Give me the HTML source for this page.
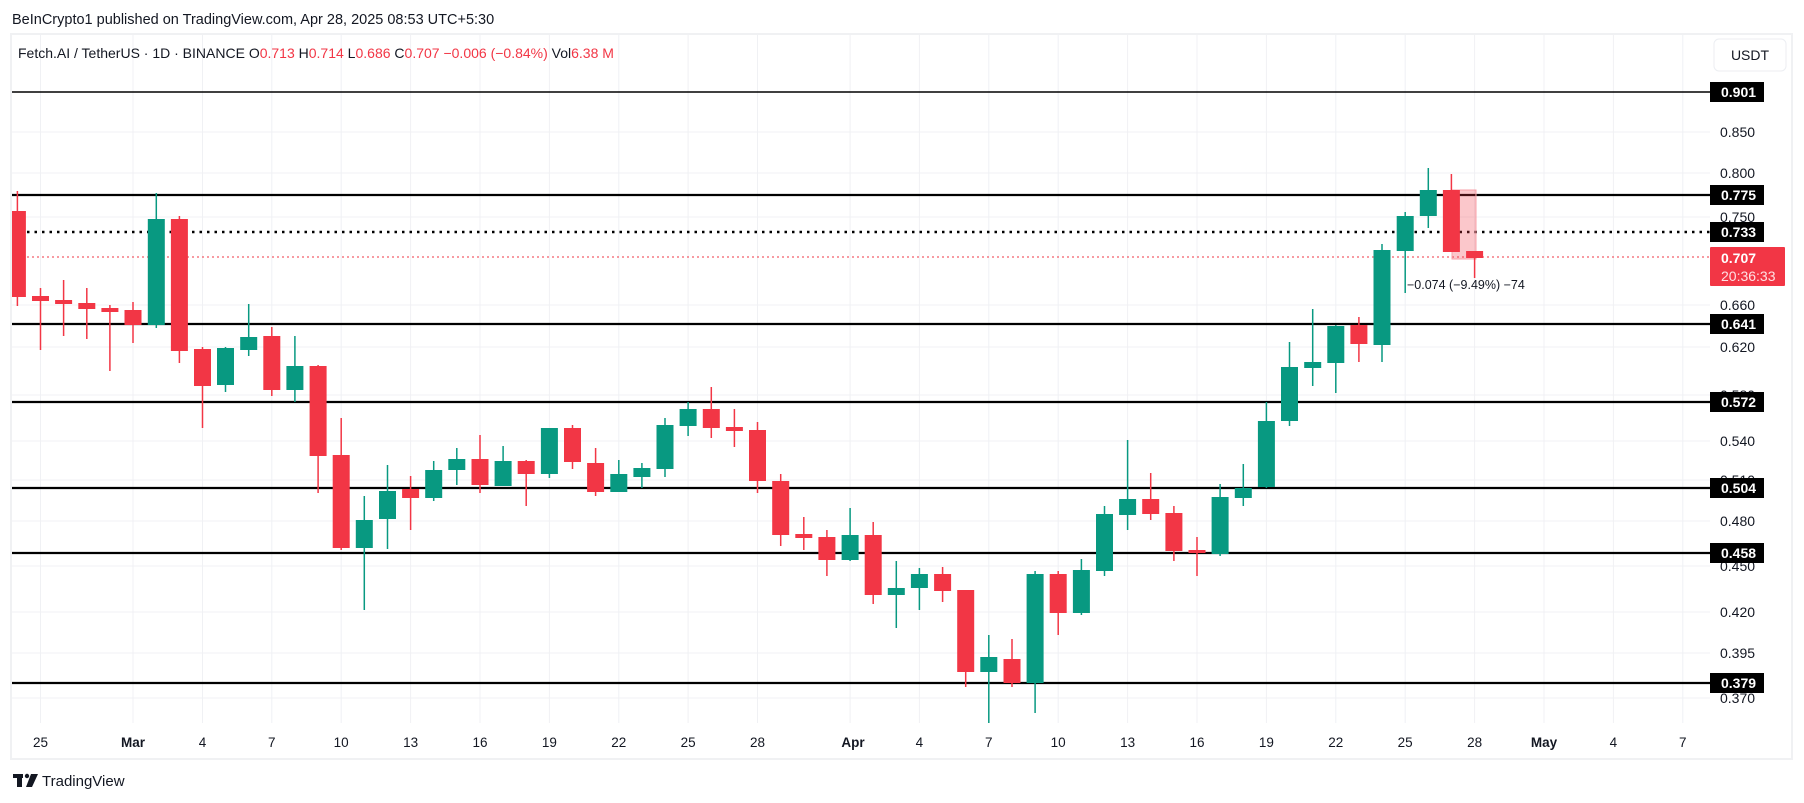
<!DOCTYPE html>
<html><head><meta charset="utf-8"><style>
html,body{margin:0;padding:0;background:#fff;}
svg{display:block;font-family:"Liberation Sans",sans-serif;}
</style></head><body>
<svg width="1804" height="803" viewBox="0 0 1804 803" xmlns="http://www.w3.org/2000/svg">
<rect width="1804" height="803" fill="#fff"/>
<text x="12" y="24" font-size="14.5" fill="#131722">BeInCrypto1 published on TradingView.com, Apr 28, 2025 08:53 UTC+5:30</text>
<rect x="11" y="34" width="1781" height="725" fill="none" stroke="#f0f1f3" stroke-width="2"/>
<defs><clipPath id="pc"><rect x="12" y="35" width="1698" height="688"/></clipPath></defs>
<g stroke="#f0f1f4" stroke-width="1">
<line x1="12" y1="132" x2="1710" y2="132"/><line x1="12" y1="173" x2="1710" y2="173"/><line x1="12" y1="217" x2="1710" y2="217"/><line x1="12" y1="305" x2="1710" y2="305"/><line x1="12" y1="347" x2="1710" y2="347"/><line x1="12" y1="395" x2="1710" y2="395"/><line x1="12" y1="441" x2="1710" y2="441"/><line x1="12" y1="480" x2="1710" y2="480"/><line x1="12" y1="521" x2="1710" y2="521"/><line x1="12" y1="566" x2="1710" y2="566"/><line x1="12" y1="612" x2="1710" y2="612"/><line x1="12" y1="653" x2="1710" y2="653"/><line x1="12" y1="698" x2="1710" y2="698"/>
<line x1="40.5" y1="35" x2="40.5" y2="723"/><line x1="133" y1="35" x2="133" y2="723"/><line x1="202.5" y1="35" x2="202.5" y2="723"/><line x1="271.8" y1="35" x2="271.8" y2="723"/><line x1="341.2" y1="35" x2="341.2" y2="723"/><line x1="410.6" y1="35" x2="410.6" y2="723"/><line x1="480" y1="35" x2="480" y2="723"/><line x1="549.4" y1="35" x2="549.4" y2="723"/><line x1="618.8" y1="35" x2="618.8" y2="723"/><line x1="688.1" y1="35" x2="688.1" y2="723"/><line x1="757.5" y1="35" x2="757.5" y2="723"/><line x1="850.1" y1="35" x2="850.1" y2="723"/><line x1="919.4" y1="35" x2="919.4" y2="723"/><line x1="988.8" y1="35" x2="988.8" y2="723"/><line x1="1058.2" y1="35" x2="1058.2" y2="723"/><line x1="1127.6" y1="35" x2="1127.6" y2="723"/><line x1="1197" y1="35" x2="1197" y2="723"/><line x1="1266.4" y1="35" x2="1266.4" y2="723"/><line x1="1335.8" y1="35" x2="1335.8" y2="723"/><line x1="1405.2" y1="35" x2="1405.2" y2="723"/><line x1="1474.6" y1="35" x2="1474.6" y2="723"/><line x1="1544" y1="35" x2="1544" y2="723"/><line x1="1613.4" y1="35" x2="1613.4" y2="723"/><line x1="1682.8" y1="35" x2="1682.8" y2="723"/>
</g>
<text x="18" y="58" font-size="14" fill="#131722">Fetch.AI / TetherUS · 1D · BINANCE  <tspan>O</tspan><tspan fill="#f23645">0.713</tspan>  H<tspan fill="#f23645">0.714</tspan>  L<tspan fill="#f23645">0.686</tspan>  C<tspan fill="#f23645">0.707</tspan>  <tspan fill="#f23645">−0.006 (−0.84%)</tspan>  Vol<tspan fill="#f23645">6.38 M</tspan></text>
<g clip-path="url(#pc)">
<g stroke="#000" stroke-width="2.2">
<line x1="12" y1="92" x2="1710" y2="92" stroke-width="1.6"/>
<line x1="12" y1="195" x2="1710" y2="195"/>
<line x1="12" y1="324" x2="1710" y2="324"/>
<line x1="12" y1="402" x2="1710" y2="402"/>
<line x1="12" y1="488" x2="1710" y2="488"/>
<line x1="12" y1="553" x2="1710" y2="553"/>
<line x1="12" y1="683" x2="1710" y2="683"/>
<line x1="12" y1="232" x2="1710" y2="232" stroke-dasharray="2.5,5" stroke-width="2.5"/>
</g>
<line x1="12" y1="257" x2="1710" y2="257" stroke="#f23645" stroke-width="1" stroke-dasharray="2,3"/>
<g id="candles">
<!-- d,-1 -->
<g fill="#f23645" stroke="#f23645" stroke-width="1.5">
<line x1="17.4" y1="191" x2="17.4" y2="306"/><rect x="8.9" y="211" width="17" height="86" stroke="none"/>
<line x1="40.5" y1="288" x2="40.5" y2="350"/><rect x="32" y="296" width="17" height="5" stroke="none"/>
<line x1="63.6" y1="280" x2="63.6" y2="336"/><rect x="55.1" y="300" width="17" height="4" stroke="none"/>
<line x1="86.8" y1="288" x2="86.8" y2="339"/><rect x="78.3" y="303" width="17" height="6" stroke="none"/>
<line x1="109.9" y1="305" x2="109.9" y2="371"/><rect x="101.4" y="308" width="17" height="4" stroke="none"/>
<line x1="133" y1="302" x2="133" y2="343"/><rect x="124.5" y="310" width="17" height="15" stroke="none"/>
<line x1="179.4" y1="216" x2="179.4" y2="363"/><rect x="170.9" y="219" width="17" height="132" stroke="none"/>
<line x1="202.5" y1="347" x2="202.5" y2="428"/><rect x="194" y="349" width="17" height="37" stroke="none"/>
<line x1="271.8" y1="327" x2="271.8" y2="396"/><rect x="263.3" y="336" width="17" height="54" stroke="none"/>
<line x1="318.1" y1="365" x2="318.1" y2="493"/><rect x="309.6" y="366" width="17" height="90" stroke="none"/>
<line x1="341.2" y1="418" x2="341.2" y2="550"/><rect x="332.7" y="455" width="17" height="93" stroke="none"/>
<line x1="410.6" y1="476" x2="410.6" y2="530"/><rect x="402.1" y="489" width="17" height="9" stroke="none"/>
<line x1="480" y1="435" x2="480" y2="493"/><rect x="471.5" y="459" width="17" height="26" stroke="none"/>
<line x1="526.2" y1="460" x2="526.2" y2="506"/><rect x="517.7" y="461" width="17" height="13" stroke="none"/>
<line x1="572.5" y1="425" x2="572.5" y2="469"/><rect x="564" y="428" width="17" height="34" stroke="none"/>
<line x1="595.6" y1="448" x2="595.6" y2="496"/><rect x="587.1" y="463" width="17" height="29" stroke="none"/>
<line x1="711.3" y1="387" x2="711.3" y2="438"/><rect x="702.8" y="409" width="17" height="19" stroke="none"/>
<line x1="734.4" y1="409" x2="734.4" y2="447"/><rect x="725.9" y="427" width="17" height="4" stroke="none"/>
<line x1="757.5" y1="422" x2="757.5" y2="493"/><rect x="749" y="430" width="17" height="51" stroke="none"/>
<line x1="780.7" y1="474" x2="780.7" y2="546"/><rect x="772.2" y="481" width="17" height="54" stroke="none"/>
<line x1="803.8" y1="517" x2="803.8" y2="550"/><rect x="795.3" y="534" width="17" height="4" stroke="none"/>
<line x1="826.9" y1="530" x2="826.9" y2="576"/><rect x="818.4" y="537" width="17" height="23" stroke="none"/>
<line x1="873.2" y1="522" x2="873.2" y2="604"/><rect x="864.7" y="535" width="17" height="60" stroke="none"/>
<line x1="942.6" y1="567" x2="942.6" y2="602"/><rect x="934.1" y="574" width="17" height="17" stroke="none"/>
<line x1="965.7" y1="590" x2="965.7" y2="687"/><rect x="957.2" y="590" width="17" height="82" stroke="none"/>
<line x1="1012" y1="639" x2="1012" y2="687"/><rect x="1003.5" y="659" width="17" height="24" stroke="none"/>
<line x1="1058.2" y1="571" x2="1058.2" y2="635"/><rect x="1049.7" y="574" width="17" height="39" stroke="none"/>
<line x1="1150.7" y1="473" x2="1150.7" y2="520"/><rect x="1142.2" y="499" width="17" height="15" stroke="none"/>
<line x1="1173.9" y1="506" x2="1173.9" y2="561"/><rect x="1165.4" y="513" width="17" height="38" stroke="none"/>
<line x1="1197" y1="537" x2="1197" y2="576"/><rect x="1188.5" y="550" width="17" height="3" stroke="none"/>
<line x1="1358.9" y1="317" x2="1358.9" y2="362"/><rect x="1350.4" y="325" width="17" height="19" stroke="none"/>
</g>
<rect x="1452" y="190" width="24" height="69" fill="#f23645" fill-opacity="0.28" stroke="#f7a0a8" stroke-width="1"/>
<g fill="#f23645" stroke="#f23645" stroke-width="1.5">
<line x1="1451.4" y1="174" x2="1451.4" y2="252"/><rect x="1442.9" y="190" width="17" height="62" stroke="none"/>
<line x1="1474.6" y1="251" x2="1474.6" y2="278"/><rect x="1466.1" y="251" width="17" height="7" stroke="none"/>
</g>
<g fill="#089981" stroke="#089981" stroke-width="1.5">
<line x1="156.3" y1="193" x2="156.3" y2="328"/><rect x="147.8" y="219" width="17" height="106" stroke="none"/>
<line x1="225.5" y1="347" x2="225.5" y2="392"/><rect x="217" y="348" width="17" height="37" stroke="none"/>
<line x1="248.7" y1="304" x2="248.7" y2="356"/><rect x="240.2" y="337" width="17" height="13" stroke="none"/>
<line x1="294.9" y1="336" x2="294.9" y2="402"/><rect x="286.4" y="366" width="17" height="24" stroke="none"/>
<line x1="364.3" y1="496" x2="364.3" y2="610"/><rect x="355.8" y="520" width="17" height="28" stroke="none"/>
<line x1="387.5" y1="465" x2="387.5" y2="549"/><rect x="379" y="491" width="17" height="28" stroke="none"/>
<line x1="433.7" y1="461" x2="433.7" y2="501"/><rect x="425.2" y="470" width="17" height="28" stroke="none"/>
<line x1="456.8" y1="448" x2="456.8" y2="485"/><rect x="448.3" y="459" width="17" height="11" stroke="none"/>
<line x1="503.1" y1="446" x2="503.1" y2="486"/><rect x="494.6" y="461" width="17" height="25" stroke="none"/>
<line x1="549.4" y1="428" x2="549.4" y2="478"/><rect x="540.9" y="428" width="17" height="46" stroke="none"/>
<line x1="618.8" y1="460" x2="618.8" y2="492"/><rect x="610.3" y="474" width="17" height="18" stroke="none"/>
<line x1="641.9" y1="463" x2="641.9" y2="488"/><rect x="633.4" y="468" width="17" height="9" stroke="none"/>
<line x1="665" y1="418" x2="665" y2="477"/><rect x="656.5" y="425" width="17" height="44" stroke="none"/>
<line x1="688.1" y1="402" x2="688.1" y2="436"/><rect x="679.6" y="409" width="17" height="17" stroke="none"/>
<line x1="850.1" y1="508" x2="850.1" y2="561"/><rect x="841.6" y="535" width="17" height="25" stroke="none"/>
<line x1="896.3" y1="561" x2="896.3" y2="628"/><rect x="887.8" y="588" width="17" height="7" stroke="none"/>
<line x1="919.4" y1="568" x2="919.4" y2="610"/><rect x="910.9" y="574" width="17" height="14" stroke="none"/>
<line x1="988.8" y1="635" x2="988.8" y2="724"/><rect x="980.3" y="657" width="17" height="15" stroke="none"/>
<line x1="1035.1" y1="571" x2="1035.1" y2="713"/><rect x="1026.6" y="574" width="17" height="109" stroke="none"/>
<line x1="1081.4" y1="559" x2="1081.4" y2="615"/><rect x="1072.9" y="570" width="17" height="43" stroke="none"/>
<line x1="1104.5" y1="506" x2="1104.5" y2="576"/><rect x="1096" y="514" width="17" height="57" stroke="none"/>
<line x1="1127.6" y1="440" x2="1127.6" y2="530"/><rect x="1119.1" y="499" width="17" height="16" stroke="none"/>
<line x1="1220.1" y1="484" x2="1220.1" y2="556"/><rect x="1211.6" y="497" width="17" height="57" stroke="none"/>
<line x1="1243.3" y1="464" x2="1243.3" y2="506"/><rect x="1234.8" y="488" width="17" height="10" stroke="none"/>
<line x1="1266.4" y1="402" x2="1266.4" y2="488"/><rect x="1257.9" y="421" width="17" height="66" stroke="none"/>
<line x1="1289.5" y1="342" x2="1289.5" y2="426"/><rect x="1281" y="367" width="17" height="54" stroke="none"/>
<line x1="1312.7" y1="309" x2="1312.7" y2="386"/><rect x="1304.2" y="362" width="17" height="6" stroke="none"/>
<line x1="1335.8" y1="325" x2="1335.8" y2="393"/><rect x="1327.3" y="326" width="17" height="37" stroke="none"/>
<line x1="1382" y1="244" x2="1382" y2="362"/><rect x="1373.5" y="250" width="17" height="95" stroke="none"/>
<line x1="1405.2" y1="212" x2="1405.2" y2="293"/><rect x="1396.7" y="216" width="17" height="35" stroke="none"/>
<line x1="1428.3" y1="168" x2="1428.3" y2="228"/><rect x="1419.8" y="190" width="17" height="26" stroke="none"/>
</g>
</g>
<text x="1407" y="289" font-size="12.5" fill="#131722">−0.074 (−9.49%) −74</text>
</g>
<!-- price axis -->
<rect x="1714" y="39" width="72" height="32" rx="5" fill="#fff" stroke="#eceef2"/>
<text x="1750" y="60" font-size="14" fill="#131722" text-anchor="middle">USDT</text>
<g font-size="14" fill="#131722">
<text x="1720" y="137">0.850</text><text x="1720" y="178">0.800</text><text x="1720" y="222">0.750</text><text x="1720" y="310">0.660</text><text x="1720" y="352">0.620</text><text x="1720" y="400">0.580</text><text x="1720" y="446">0.540</text><text x="1720" y="485">0.510</text><text x="1720" y="526">0.480</text><text x="1720" y="571">0.450</text><text x="1720" y="617">0.420</text><text x="1720" y="658">0.395</text><text x="1720" y="703">0.370</text>
</g>
<g font-size="14" font-weight="bold" fill="#fff">
<rect x="1710" y="82" width="54" height="20" fill="#000"/><text x="1721" y="97">0.901</text>
<rect x="1710" y="185" width="54" height="20" fill="#000"/><text x="1721" y="200">0.775</text>
<rect x="1710" y="222" width="54" height="20" fill="#000"/><text x="1721" y="237">0.733</text>
<rect x="1710" y="314" width="54" height="20" fill="#000"/><text x="1721" y="329">0.641</text>
<rect x="1710" y="392" width="54" height="20" fill="#000"/><text x="1721" y="407">0.572</text>
<rect x="1710" y="478" width="54" height="20" fill="#000"/><text x="1721" y="493">0.504</text>
<rect x="1710" y="543" width="54" height="20" fill="#000"/><text x="1721" y="558">0.458</text>
<rect x="1710" y="673" width="54" height="20" fill="#000"/><text x="1721" y="688">0.379</text>
<rect x="1710" y="247" width="75" height="39" rx="1" fill="#f23645"/><text x="1721" y="263">0.707</text>
<text x="1721" y="281" font-weight="normal" fill="#ffe0e3">20:36:33</text>
</g>
<!-- time axis -->
<g font-size="13.5" fill="#131722" text-anchor="middle">
<text x="40.5" y="747">25</text><text x="133" y="747" font-weight="bold">Mar</text><text x="202.5" y="747">4</text><text x="271.8" y="747">7</text><text x="341.2" y="747">10</text><text x="410.6" y="747">13</text><text x="480" y="747">16</text><text x="549.4" y="747">19</text><text x="618.8" y="747">22</text><text x="688.1" y="747">25</text><text x="757.5" y="747">28</text><text x="853" y="747" font-weight="bold">Apr</text><text x="919.4" y="747">4</text><text x="988.8" y="747">7</text><text x="1058.2" y="747">10</text><text x="1127.6" y="747">13</text><text x="1197" y="747">16</text><text x="1266.4" y="747">19</text><text x="1335.8" y="747">22</text><text x="1405.2" y="747">25</text><text x="1474.6" y="747">28</text><text x="1544" y="747" font-weight="bold">May</text><text x="1613.4" y="747">4</text><text x="1682.8" y="747">7</text>
</g>
<!-- footer logo -->
<g fill="#131722">
<rect x="13" y="774" width="10" height="4"/><rect x="17" y="774" width="5" height="13"/>
<circle cx="27" cy="776" r="2.2"/>
<polygon points="31,774 38,774 32,787 26,787"/>
</g>
<text x="42" y="786" font-size="15" fill="#131722">TradingView</text>
</svg>
</body></html>
